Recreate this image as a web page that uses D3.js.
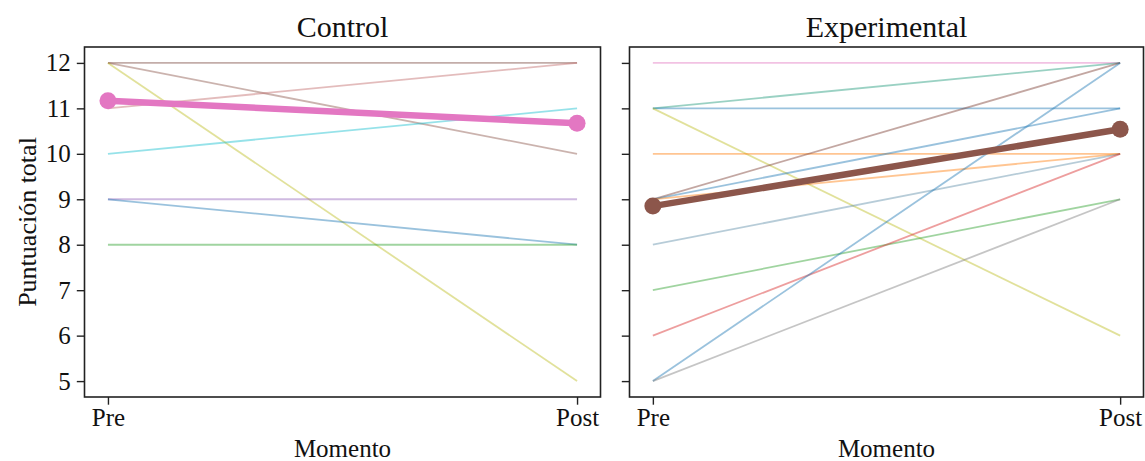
<!DOCTYPE html>
<html>
<head>
<meta charset="utf-8">
<script src="https://cdn.jsdelivr.net/npm/d3@7"></script>
<style>
  body { margin: 0; background: #fff; }
  text { font-family: "Liberation Serif", "Times New Roman", serif; fill: #111; }
</style>
</head>
<body>
<div id="chart"></div>
<script>
;(function () {
  const moments = ["Pre", "Post"]
  const yTicks = [5, 6, 7, 8, 9, 10, 11, 12]
  const groups = ["Control", "Experimental"]

  // individual participants, Control
  const controlPre = [12, 12, 12, 11, 10, 9, 9, 8]
  const controlPost = [12, 10, 5, 12, 11, 9, 8, 8]
  const controlMean = [11.17, 10.67]

  // individual participants, Experimental
  const expPre = [12, 11, 11, 11, 10, 9, 9, 9, 8, 7, 6, 5, 5]
  const expPost = [12, 12, 11, 6, 10, 12, 11, 10, 10, 9, 10, 12, 9]
  const expMean = [8.85, 10.54]

  // styling
  const controlColors = ["#7a4a40", "#8c564b", "#bcbd22", "#c26a6a", "#17becf", "#9467bd", "#1f77b4", "#2ca02c"]
  const expColors = ["#e377c2", "#1f9a7a", "#1f77b4", "#bcbd22", "#ff7f0e", "#7a3b30", "#1f77b4", "#ff7f0e", "#5f8fa8", "#2ca02c", "#d62728", "#1f77b4", "#7f7f7f"]
  const meanColors = ["#e377c2", "#8c564b"]

  const width = 1145
  const height = 461
  const top = 47, bottom = 397
  const panels = [
    { x0: 84.5, x1: 600.5, pre: controlPre, post: controlPost, mean: controlMean, colors: controlColors },
    { x0: 629.5, x1: 1143.5, pre: expPre, post: expPost, mean: expMean, colors: expColors }
  ]

  const svg = d3.select("#chart").append("svg").attr("width", width).attr("height", height)

  const y = d3.scaleLinear().domain([4.65, 12.35]).range([bottom, top])

  panels.forEach((p, gi) => {
    const x = d3.scalePoint().domain(moments).range([p.x0, p.x1]).padding(0.05)
    const g = svg.append("g")

    const line = d3.line().x(d => x(d.m)).y(d => y(d.v))

    // thin lines per participant
    const rows = p.pre.map((v, i) => [{ m: "Pre", v: v }, { m: "Post", v: p.post[i] }])
    g.selectAll(".ind")
      .data(rows)
      .join("path")
      .attr("class", "ind")
      .attr("d", line)
      .attr("fill", "none")
      .attr("stroke", (d, i) => p.colors[i])
      .attr("stroke-width", 1.8)
      .attr("stroke-opacity", 0.45)

    // mean line
    const meanRow = moments.map((m, i) => ({ m: m, v: p.mean[i] }))
    g.append("path")
      .attr("d", line(meanRow))
      .attr("fill", "none")
      .attr("stroke", meanColors[gi])
      .attr("stroke-width", 6.5)
    g.selectAll(".meanpt")
      .data(meanRow)
      .join("circle")
      .attr("class", "meanpt")
      .attr("cx", d => x(d.m))
      .attr("cy", d => y(d.v))
      .attr("r", 8.5)
      .attr("fill", meanColors[gi])

    // axes
    const yAxis = d3.axisLeft(y).tickValues(yTicks).tickSize(7.7).tickPadding(6)
    if (gi === 1) yAxis.tickFormat("")
    const ya = g.append("g").attr("transform", `translate(${p.x0},0)`).call(yAxis)
    const xa = g.append("g").attr("transform", `translate(0,${bottom})`)
      .call(d3.axisBottom(x).tickSize(7.7).tickPadding(4))
    ;[ya, xa].forEach(a => {
      a.select(".domain").remove()
      a.selectAll(".tick line").attr("stroke", "#222").attr("stroke-width", 1.4)
      a.selectAll(".tick text").style("font-size", "25px").attr("fill", "#111")
        .style("font-family", "'Liberation Serif', serif")
    })

    // frame
    g.append("rect")
      .attr("x", p.x0).attr("y", top)
      .attr("width", p.x1 - p.x0).attr("height", bottom - top)
      .attr("fill", "none").attr("stroke", "#222").attr("stroke-width", 1.6)

    // title and x label
    g.append("text")
      .attr("x", (p.x0 + p.x1) / 2).attr("y", 37)
      .attr("text-anchor", "middle").style("font-size", "30px")
      .text(groups[gi])
    g.append("text")
      .attr("x", (p.x0 + p.x1) / 2).attr("y", 457)
      .attr("text-anchor", "middle").style("font-size", "25px")
      .text("Momento")
  })

  svg.append("text")
    .attr("transform", `translate(36,${(top + bottom) / 2}) rotate(-90)`)
    .attr("text-anchor", "middle").style("font-size", "26px")
    .text("Puntuación total")
})()
</script>
</body>
</html>
